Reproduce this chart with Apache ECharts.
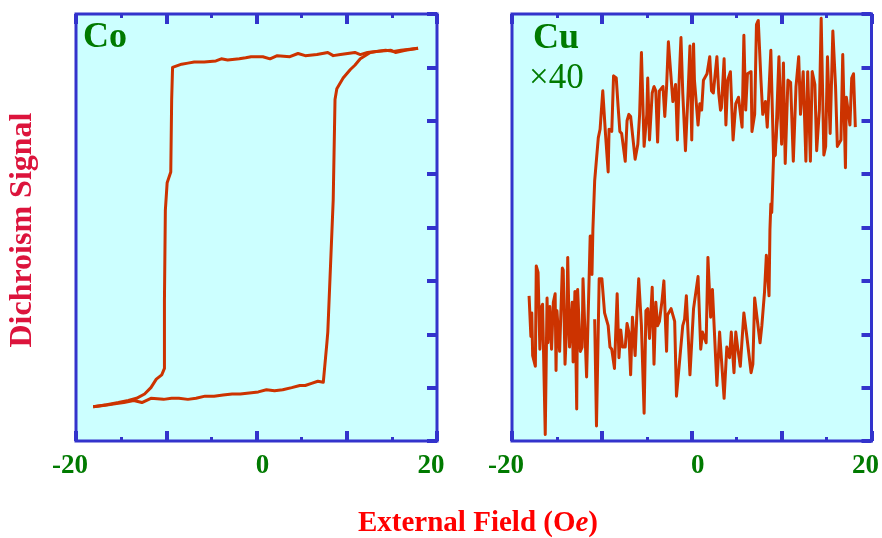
<!DOCTYPE html>
<html><head><meta charset="utf-8">
<script src="https://cdn.jsdelivr.net/npm/echarts@6/dist/echarts.min.js"></script>
<style>html,body{margin:0;padding:0;background:#fff}#c{width:882px;height:538px}</style>
</head><body><div id="c"></div>
<script>
// tick labels shown on the field axes
const xTickLabels = [-20, 0, 20];

// Co: field swept from +18 down to -18 (upper branch)
const coDown = [
 [17.9,84],[16.5,83],[15.4,82],[14.9,83],[13.5,82.5],[12.3,82],[11.5,81],[10.9,82],[10.1,81.5],[9.3,81],[8.5,80.5],[7.9,82],[6.7,81],[5.4,80.5],[4.6,81.5],[3.7,80],[2.3,80.5],[1.5,79],[0.7,80],[-0.6,80],[-1.2,79.5],[-1.9,79],[-3.2,78.5],[-3.9,79],[-4.5,78],[-5.8,77.5],[-6.9,77.5],[-7.6,77],[-8.3,76.5],[-9.3,75],
 [-9.4,60],[-9.5,26],[-9.9,21],[-10.1,8],[-10.2,-34],[-10.2,-66],[-10.5,-69],[-11.1,-71],[-11.7,-75],[-12.4,-78],[-13.3,-80],[-14.2,-81],[-15.3,-82],[-16.6,-83],[-18.1,-84]
];
// Co: field swept from -18 up to +18 (lower branch)
const coUp = [
 [-18.1,-84],[-17.2,-83.5],[-16.4,-83],[-15.5,-82.5],[-14.7,-82],[-13.6,-81],[-12.7,-82],[-11.7,-80],[-10.3,-80.5],[-9.4,-80],[-8.6,-80],[-7.6,-80.5],[-6.7,-80],[-5.7,-79],[-4.7,-79],[-3.7,-78.5],[-2.7,-78],[-1.8,-78],[-0.8,-77.5],[0.2,-77],[1.1,-76],[2.0,-76.5],[2.9,-76],[3.9,-75],[4.8,-74],[5.4,-74],[6.1,-73],[6.8,-72],[7.4,-72.5],[7.6,-72],
 [7.8,-54],[7.9,-49],[8.5,13],[8.7,60],[8.9,65],[9.6,70],[10.4,74],[10.9,76],[11.5,79],[12.6,82],[13.4,82.5],[14.3,83],[15.2,82.5],[16.0,83],[17.0,83.5],[17.9,84]
];

// Cu (x40): upper branch, field decreasing
const cuDown = [
 [18.2,47],[18.0,72],[17.8,70],[17.6,48],[17.2,61],[17.1,28],[16.8,81],[16.6,41],[16.2,38],[16.0,66],[15.7,92],[15.4,44],[15.1,80],[14.9,38],[14.7,34],[14.4,98],[14.2,55],[13.9,36],[13.7,67],[13.4,73],[13.2,31],[12.9,73],[12.7,31],[12.4,73],[12.1,53],[11.9,80],[11.6,66],[11.3,31],[11.0,68],[10.7,69],[10.4,30],[10.2,77],[10.0,39],[9.7,80],[9.3,34],[9.1,33],[8.8,83],
 [8.4,47],[8.2,59],[7.9,53],[7.7,69],[7.4,97],[7.2,95],[7.0,53],[6.7,45],[6.6,73],[6.2,72],[6.0,55],[5.8,90],[5.6,47],[5.2,61],[4.9,58],[4.6,41],[4.3,73],[4.0,69],[3.8,48],[3.6,79],[3.3,56],[3.2,55],[3.0,63],[2.8,80],[2.4,63],[2.2,64],[2.0,80],[1.7,72],[1.3,69],[1.1,55],[0.9,58],[0.7,48],[0.3,69],[0.2,86],[0.0,41],[-0.2,85],
 [-0.4,64],[-0.7,36],[-1.0,63],[-1.2,89],[-1.4,69],[-1.6,41],[-1.8,67],[-2.1,59],[-2.2,59],[-2.6,87],[-2.8,66],[-3.0,52],[-3.2,66],[-3.6,64],[-3.8,40],[-4.0,64],[-4.2,66],[-4.4,63],[-4.7,41],[-4.9,70],[-5.0,53],[-5.3,38],[-5.6,82],[-5.8,53],[-6.0,39],[-6.3,32],[-6.6,44],[-6.8,52],[-7.0,53],[-7.2,50],[-7.4,31],[-7.8,44],[-8.0,45],[-8.2,57],[-8.4,70],[-8.7,71],[-8.9,45],[-9.2,46],[-9.3,26],[-9.6,44],[-9.9,64],[-10.2,46],[-10.4,42],
 [-10.8,22],[-11.0,-1],[-11.1,-22],[-11.3,-4],[-11.7,-70],[-11.9,-47],[-12.1,-24],[-12.2,-56],[-12.4,-58],[-12.7,-29],[-12.8,-85],[-13.0,-30],[-13.2,-63],[-13.3,-35],[-13.6,-56],[-13.8,-14],[-13.9,-44],[-14.1,-64],[-14.3,-20],[-14.4,-19],[-14.7,-58],[-15.0,-39],[-15.1,-67],[-15.2,-31],[-15.4,-35],[-15.6,-57],[-15.8,-37],[-16.0,-54],[-16.1,-33],[-16.3,-97],[-16.6,-36],[-16.7,-37],[-16.9,-57],[-17.1,-21],[-17.3,-18],[-17.4,-65],[-17.7,-60],[-17.8,-40],[-17.9,-51],[-18.1,-32]
];
// Cu (x40): lower branch, field increasing
const cuUp = [
 [-10.8,-43],[-10.6,-93],[-10.3,-24],[-10.0,-24],[-9.7,-40],[-9.3,-46],[-9.1,-56],[-8.9,-57],[-8.6,-66],[-8.3,-31],[-8.1,-61],[-7.9,-48],[-7.7,-56],[-7.4,-56],[-7.2,-45],[-7.0,-49],[-6.8,-69],[-6.6,-42],[-6.3,-60],[-6.1,-40],[-5.9,-24],[-5.6,-46],[-5.3,-87],[-5.1,-39],[-4.9,-38],[-4.7,-52],[-4.4,-28],[-4.2,-64],[-4.0,-35],[-3.8,-46],[-3.6,-44],[-3.3,-34],[-3.1,-25],[-2.8,-58],[-2.7,-41],[-2.3,-38],[-2.1,-38],[-1.9,-44],[-1.7,-79],[-1.3,-60],[-1.0,-46],[-0.8,-43],[-0.6,-32],[-0.2,-69],
 [0.2,-38],[0.7,-23],[1.0,-57],[1.2,-49],[1.6,-54],[1.8,-14],[2.1,-42],[2.3,-29],[2.8,-74],[3.1,-49],[3.3,-49],[3.6,-80],[3.9,-56],[4.2,-61],[4.4,-49],[4.7,-68],[4.9,-49],[5.1,-56],[5.4,-65],[5.8,-40],[6.1,-50],[6.6,-68],[6.8,-64],[7.0,-33],[7.2,-33],[7.6,-54],[7.8,-46],[8.1,-30],[8.3,-13],[8.6,-32],
 [8.7,-1],[8.8,11],[8.9,7],[9.1,33],[9.3,38],[9.7,60]
];

const LINE = '#cc3300';
const BLUE = '#3333cc';
const GREEN = '#007a00';
const SERIF = '"Liberation Serif","Times New Roman",serif';

function xAxisFor(grid, pos, labels) {
  return {
    type: 'value', gridIndex: grid, position: pos, min: -20, max: 20, interval: 10,
    axisLine: {show: false, onZero: false}, splitLine: {show: false},
    axisTick: {show: true, inside: true, length: 10, lineStyle: {color: BLUE, width: 4}},
    minorTick: {show: true, splitNumber: 2, length: 4, lineStyle: {color: BLUE, width: 3}},
    axisLabel: labels ? {
      show: true, margin: 12, showMinLabel: true, showMaxLabel: true,
      formatter: v => xTickLabels.indexOf(v) < 0 ? '' : (v === 0 ? '{r|' + v + '}' : '{l|' + v + '}'),
      rich: {
        l: {fontFamily: SERIF, fontWeight: 'bold', fontSize: 27, color: GREEN, padding: [0, 12, 0, 0]},
        r: {fontFamily: SERIF, fontWeight: 'bold', fontSize: 27, color: GREEN, padding: [0, 0, 0, 12]}
      }
    } : {show: false}
  };
}
function yAxisFor(grid) {
  return {
    type: 'value', gridIndex: grid, position: 'right', min: -100, max: 100, interval: 25,
    axisLine: {show: false, onZero: false}, splitLine: {show: false}, axisLabel: {show: false},
    axisTick: {show: true, inside: true, length: 10, lineStyle: {color: BLUE, width: 4}}
  };
}
function lineSeries(data, xi, yi) {
  return {type: 'line', data: data, xAxisIndex: xi, yAxisIndex: yi, symbol: 'none', showSymbol: false,
    lineStyle: {color: LINE, width: 3, join: 'round'}, silent: true, z: 3};
}

const chart = echarts.init(document.getElementById('c'), null, {renderer: 'canvas'});
chart.setOption({
  animation: false,
  backgroundColor: '#ffffff',
  grid: [
    {left: 76, top: 14, width: 361, height: 427, show: true, backgroundColor: '#ccffff', borderColor: BLUE, borderWidth: 3},
    {left: 512, top: 14, width: 362, height: 427, show: true, backgroundColor: '#ccffff', borderColor: BLUE, borderWidth: 3}
  ],
  xAxis: [xAxisFor(0, 'bottom', true), xAxisFor(0, 'top', false), xAxisFor(1, 'bottom', true), xAxisFor(1, 'top', false)],
  yAxis: [yAxisFor(0), yAxisFor(1)],
  series: [
    lineSeries(coDown, 0, 0), lineSeries(coUp, 0, 0),
    lineSeries(cuDown, 2, 1), lineSeries(cuUp, 2, 1)
  ],
  graphic: [
    {type: 'text', x: 83, y: 20, z: 10, style: {text: 'Co', font: 'bold 36px ' + SERIF, fill: GREEN}},
    {type: 'text', x: 533, y: 21, z: 10, style: {text: 'Cu', font: 'bold 36px ' + SERIF, fill: GREEN}},
    {type: 'text', x: 529, y: 61, z: 10, style: {text: '\u00d740', font: '35px ' + SERIF, fill: GREEN}},
    {type: 'text', x: 478, y: 509, z: 10, style: {
      text: '{a|External Field (O}{b|e}{a|)}', align: 'center',
      rich: {
        a: {fontFamily: SERIF, fontWeight: 'bold', fontSize: 29, fill: '#ff0000', color: '#ff0000'},
        b: {fontFamily: SERIF, fontWeight: 'bold', fontStyle: 'italic', fontSize: 29, fill: '#ff0000', color: '#ff0000'}
      }
    }},
    {type: 'text', x: 23, y: 230, rotation: Math.PI / 2, z: 10, style: {
      text: 'Dichroism Signal', align: 'center', verticalAlign: 'middle', font: 'bold 32px ' + SERIF, fill: '#dc143c'}}
  ]
});
</script>
</body></html>
